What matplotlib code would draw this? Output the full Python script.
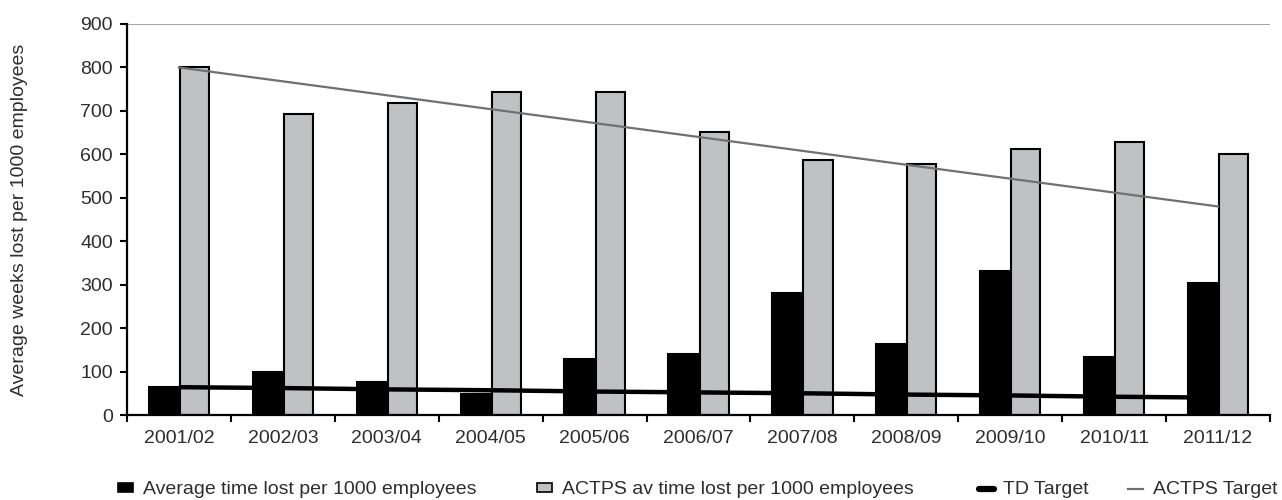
import matplotlib
matplotlib.use("Agg")
import matplotlib.pyplot as plt
import numpy as np
from matplotlib.patches import Patch
from matplotlib.lines import Line2D

plt.rcParams['font.family'] = ['Liberation Sans', 'DejaVu Sans']

years = ["2001/02", "2002/03", "2003/04", "2004/05", "2005/06", "2006/07",
         "2007/08", "2008/09", "2009/10", "2010/11", "2011/12"]
avg_lost = [65, 98, 77, 48, 130, 140, 280, 163, 332, 134, 304]
actps_lost = [801, 692, 719, 744, 743, 652, 586, 578, 613, 628, 601]
td_target = [64, 62, 59, 57, 54, 52, 50, 47, 45, 42, 40]
actps_target = [800, 768, 736, 704, 672, 640, 608, 576, 544, 512, 480]
yticks = [0, 100, 200, 300, 400, 500, 600, 700, 800, 900]

txt = '#2e2e2e'
gray_fill = '#c0c1c3'
fs = 14

fig = plt.figure(figsize=(12.82, 5.0), dpi=100)
ax = fig.add_axes([127/1282, 1-415/500, (1270-127)/1282, (415-24)/500])

x = np.arange(len(years))
w = 0.3
ax.bar(x - 0.14, avg_lost, width=w, color='black', edgecolor='black', linewidth=1.5, zorder=2)
ax.bar(x + 0.15, actps_lost, width=0.28, color=gray_fill, edgecolor='black', linewidth=1.5, zorder=2)
ax.plot(x, td_target, color='black', linewidth=3.2, zorder=3, solid_capstyle='butt')
ax.plot(x, actps_target, color='#707070', linewidth=1.6, zorder=3)

ax.axhline(900, color='#a6a6a6', linewidth=1.5, zorder=1)

ax.set_xlim(-0.5, len(years) - 0.5)
ax.set_ylim(0, 900)
ax.set_yticks(yticks)
ax.set_yticklabels([str(v) for v in yticks], fontsize=fs, color=txt)
ax.set_xticks(x)
ax.set_xticklabels(years, fontsize=fs, color=txt)
ax.set_xticks(np.arange(-0.5, len(years)), minor=True)
ax.tick_params(axis='x', which='major', length=0, pad=11)
ax.tick_params(axis='x', which='minor', length=5, width=1.5, direction='out', color='black')
ax.tick_params(axis='y', length=5, width=1.5, direction='out', color='black', pad=5)

for s in ['top', 'right']:
    ax.spines[s].set_visible(False)
for s in ['left', 'bottom']:
    ax.spines[s].set_linewidth(1.6)
    ax.spines[s].set_color('black')

ax.set_ylabel("Average weeks lost per 1000 employees", fontsize=fs, color=txt, labelpad=38)

handles = [
    Patch(facecolor='black', edgecolor='black', linewidth=1.2),
    Patch(facecolor=gray_fill, edgecolor='black', linewidth=1.2),
    Line2D([0], [0], color='black', linewidth=4.5, solid_capstyle='round'),
    Line2D([0], [0], color='#707070', linewidth=1.6),
]
labels = ["Average time lost per 1000 employees",
          "ACTPS av time lost per 1000 employees",
          "TD Target", "ACTPS Target"]
xs = [118, 537, 979, 1128]
hl = [0.78, 0.78, 0.75, 0.78]
for h, l, xp, hlen in zip(handles, labels, xs, hl):
    leg = fig.legend([h], [l], loc='center left', bbox_to_anchor=(xp/1282, 1-490/500),
                     frameon=False, fontsize=fs, handlelength=hlen, handleheight=0.4,
                     handletextpad=0.5, borderaxespad=0, borderpad=0)
    for t in leg.get_texts():
        t.set_color(txt)

fig.savefig("out.png", dpi=100)
